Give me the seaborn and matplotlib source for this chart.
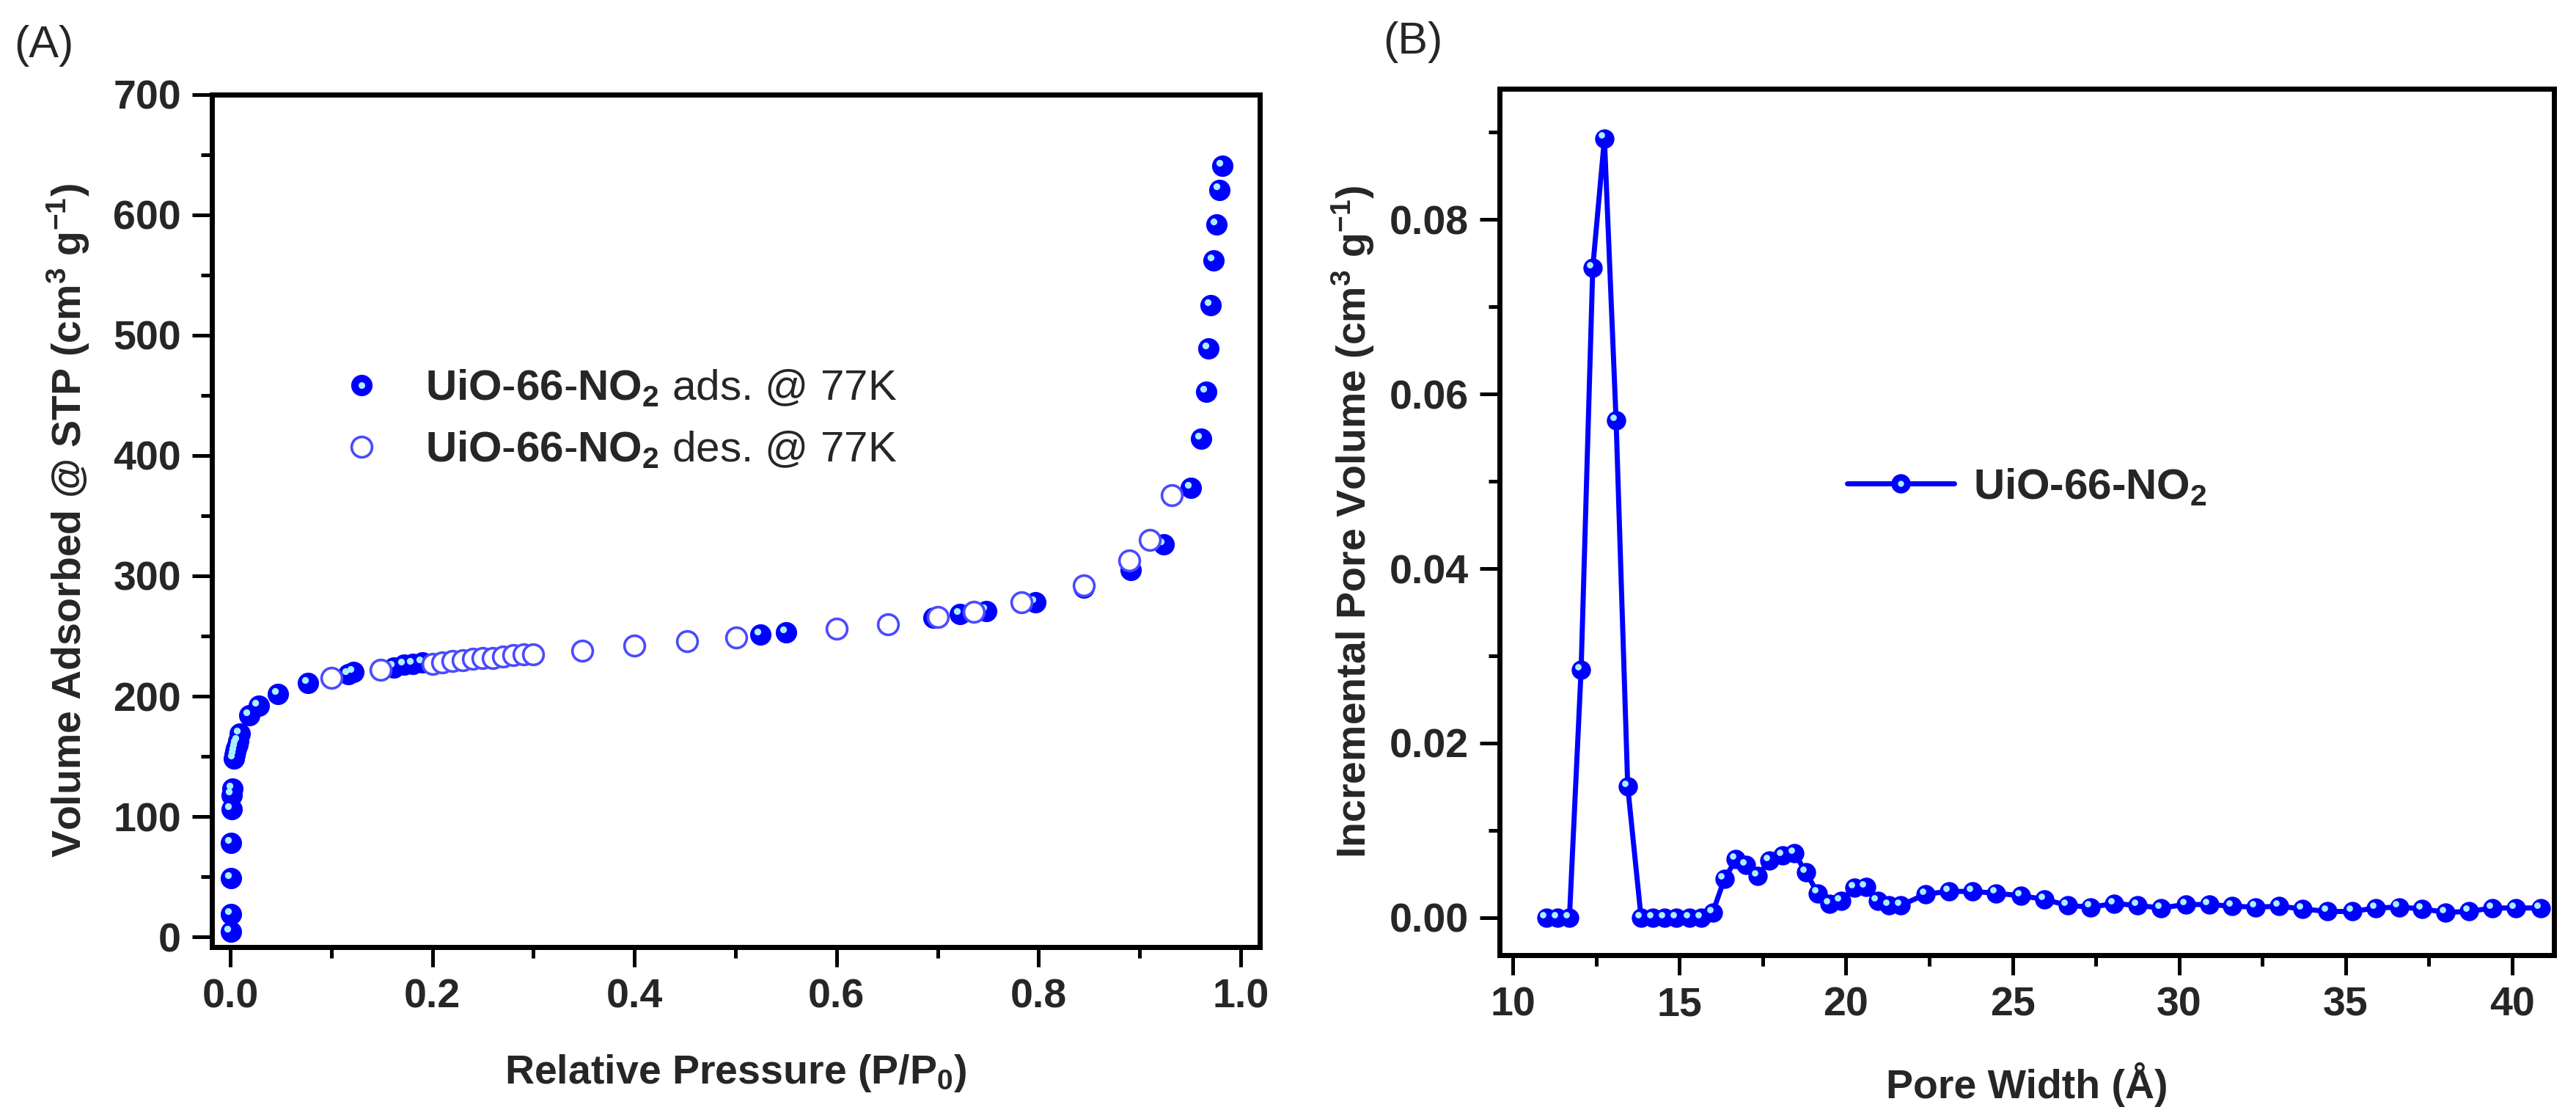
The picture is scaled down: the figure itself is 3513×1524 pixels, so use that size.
import numpy as np
import pandas as pd
import seaborn as sns
import matplotlib.pyplot as plt
from matplotlib.lines import Line2D
from matplotlib.legend_handler import HandlerTuple
from matplotlib.ticker import MultipleLocator, FormatStrFormatter
import matplotlib.transforms as mtransforms

# (A) N2 isotherm, adsorption branch (filled)
ads_p = [0.0005, 0.0007, 0.0008, 0.001, 0.0012, 0.0015, 0.002, 0.0035, 0.0045, 0.005,
         0.006, 0.007, 0.008, 0.0095, 0.019, 0.028, 0.047, 0.077, 0.117, 0.122,
         0.162, 0.172, 0.181, 0.19, 0.525, 0.55, 0.696, 0.722, 0.748, 0.797,
         0.845, 0.891, 0.924, 0.951, 0.961, 0.966, 0.968, 0.970, 0.973, 0.976,
         0.979, 0.982]
ads_v = [4, 19, 49, 78, 106, 118, 123, 148, 151, 154,
         157, 160, 163, 169, 184, 192, 202, 211, 218, 220,
         224, 226, 227, 228, 251, 253, 265, 268, 271, 278,
         290, 305, 326, 373, 414, 453, 489, 525, 562, 592,
         621, 641]

# (A) desorption branch (open)
des_p = [0.100, 0.149, 0.200, 0.210, 0.220, 0.230, 0.240, 0.250, 0.260, 0.270,
         0.280, 0.290, 0.300, 0.348, 0.400, 0.452, 0.501, 0.600, 0.651, 0.700,
         0.736, 0.783, 0.845, 0.890, 0.910, 0.932]
des_v = [215, 222, 227, 228, 229, 230, 231, 231.5, 232, 233,
         234, 234.5, 235, 238, 242, 246, 249, 256, 260, 266,
         270, 278, 292, 313, 330, 367]

# (B) pore size distribution
pore_w = [11.0, 11.35, 11.7, 12.05, 12.4, 12.75, 13.1, 13.45, 13.85, 14.2,
          14.55, 14.9, 15.3, 15.65, 16.0, 16.35, 16.7, 17.0, 17.35, 17.7,
          18.1, 18.45, 18.8, 19.15, 19.5, 19.85, 20.25, 20.6, 20.95, 21.3,
          21.65, 22.4, 23.1, 23.8, 24.5, 25.25, 25.95, 26.65, 27.35, 28.05,
          28.75, 29.45, 30.2, 30.9, 31.6, 32.3, 33.0, 33.7, 34.45, 35.2,
          35.9, 36.6, 37.3, 38.0, 38.7, 39.4, 40.1, 40.85]
pore_v = [0.0, 0.0, 0.0, 0.0284, 0.0745, 0.0893, 0.057, 0.015, 0.0, 0.0,
          0.0, 0.0, 0.0, 0.0, 0.0006, 0.0044, 0.0067, 0.006, 0.0048, 0.0065,
          0.0071, 0.0074, 0.0052, 0.0028, 0.0016, 0.0019, 0.0034, 0.0035, 0.0019, 0.0014,
          0.0014, 0.0027, 0.0030, 0.0030, 0.0028, 0.0025, 0.0021, 0.0014, 0.0012, 0.0016,
          0.0014, 0.0011, 0.0015, 0.0015, 0.0013, 0.0012, 0.0013, 0.0010, 0.0007, 0.0007,
          0.0011, 0.0012, 0.0010, 0.0006, 0.0007, 0.0011, 0.0011, 0.0011]

BLUE = '#0000ff'
SHINE = '#a8f0ff'
OPEN = '#4a4aff'

sns.set_theme(style="ticks")
plt.rcParams['font.family'] = ['Liberation Sans', 'DejaVu Sans']
plt.rcParams['mathtext.fontset'] = 'custom'
plt.rcParams['mathtext.rm'] = 'Liberation Sans'
plt.rcParams['mathtext.bf'] = 'Liberation Sans:bold'
plt.rcParams['mathtext.it'] = 'Liberation Sans:italic'
plt.rcParams['mathtext.default'] = 'regular'

fig = plt.figure(figsize=(35.13, 15.24), dpi=100)
axA = fig.add_axes([0.0823, 0.1529, 0.4068, 0.7625])
axB = fig.add_axes([0.5821, 0.1457, 0.4093, 0.775])


def style(ax):
    for s in ax.spines.values():
        s.set_linewidth(5)
        s.set_color('black')
    ax.tick_params(which='both', direction='out', width=3.6, color='black',
                   top=False, right=False, labelsize=40, pad=11)
    ax.tick_params(which='major', length=19.5)
    ax.tick_params(which='minor', length=11)
    for lab in ax.get_xticklabels() + ax.get_yticklabels():
        lab.set_fontweight('bold')


shine = lambda ax: mtransforms.offset_copy(ax.transData, fig=fig, x=-3, y=3, units='points')

# ---- panel A
df_ads = pd.DataFrame({'p': ads_p, 'v': ads_v})
df_des = pd.DataFrame({'p': des_p, 'v': des_v})
sns.scatterplot(data=df_ads, x='p', y='v', ax=axA, s=440, color=BLUE,
                edgecolor=BLUE, linewidth=0, zorder=3)
axA.scatter(df_ads['p'], df_ads['v'], s=45, color=SHINE, linewidths=0,
            zorder=4, transform=shine(axA))
sns.scatterplot(data=df_des, x='p', y='v', ax=axA, s=400, facecolor='white',
                edgecolor=OPEN, linewidth=2.6, zorder=5)

axA.set_xlim(-0.018, 1.019)
axA.set_ylim(-8.5, 700)
axA.xaxis.set_major_locator(MultipleLocator(0.2))
axA.xaxis.set_minor_locator(MultipleLocator(0.1))
axA.yaxis.set_major_locator(MultipleLocator(100))
axA.yaxis.set_minor_locator(MultipleLocator(50))
axA.xaxis.set_major_formatter(FormatStrFormatter('%.1f'))
style(axA)
axA.set_xlabel('Relative Pressure (P/P$_0$)', fontsize=40, fontweight='bold')
axA.set_ylabel('Volume Adsorbed @ STP (cm$^3$ g$^{-1}$)', fontsize=40, fontweight='bold')
axA.xaxis.set_label_coords(0.5, -0.124)
axA.yaxis.set_label_coords(-0.115, 0.5)

h_ads = (Line2D([], [], ls='none', marker='o', ms=21, color=BLUE, mew=0),
         Line2D([], [], ls='none', marker='o', ms=6.5, color=SHINE, mew=0))
h_des = Line2D([], [], ls='none', marker='o', ms=20, mfc='white', mec=OPEN, mew=2.6)
axA.legend([h_ads, h_des],
           [r'$\mathbf{UiO}$-$\mathbf{66}$-$\mathbf{NO_2}$ ads. @ 77K',
            r'$\mathbf{UiO}$-$\mathbf{66}$-$\mathbf{NO_2}$ des. @ 77K'],
           handler_map={tuple: HandlerTuple(ndivide=1, pad=0)},
           loc='center left', bbox_to_anchor=(0.122, 0.619), frameon=False,
           fontsize=42, handlelength=1.0, handletextpad=1.0, labelspacing=0.5,
           borderpad=0, borderaxespad=0)

# ---- panel B
sns.lineplot(x=pore_w, y=pore_v, ax=axB, color=BLUE, lw=5, marker='o',
             markersize=19, markeredgewidth=0, sort=False, zorder=3)
axB.scatter(pore_w, pore_v, s=40, color=SHINE, linewidths=0, zorder=4,
            transform=shine(axB))

axB.set_xlim(9.6, 41.25)
axB.set_ylim(-0.0043, 0.095)
axB.xaxis.set_major_locator(MultipleLocator(5))
axB.xaxis.set_minor_locator(MultipleLocator(2.5))
axB.yaxis.set_major_locator(MultipleLocator(0.02))
axB.yaxis.set_minor_locator(MultipleLocator(0.01))
axB.yaxis.set_major_formatter(FormatStrFormatter('%.2f'))
style(axB)
axB.set_xlabel('Pore Width (Å)', fontsize=40, fontweight='bold')
axB.set_ylabel('Incremental Pore Volume (cm$^3$ g$^{-1}$)', fontsize=40, fontweight='bold')
axB.xaxis.set_label_coords(0.5, -0.124)
axB.yaxis.set_label_coords(-0.117, 0.5)

h_psd = (Line2D([], [], color=BLUE, lw=5, marker='o', ms=19, mew=0),
         Line2D([], [], ls='none', marker='o', ms=6, color=SHINE, mew=0))
axB.legend([h_psd], ['UiO-66-NO$_2$'],
           handler_map={tuple: HandlerTuple(ndivide=1, pad=0)},
           loc='center left', bbox_to_anchor=(0.33, 0.54), frameon=False,
           prop={'size': 42, 'weight': 'bold'}, handlelength=2.5,
           handletextpad=0.45, borderpad=0, borderaxespad=0)

fig.text(0.0054, 0.959, '(A)', fontsize=44, va='center', ha='left')
fig.text(0.537, 0.962, '(B)', fontsize=44, va='center', ha='left')

fig.savefig('out.png', dpi=100, facecolor='white')
